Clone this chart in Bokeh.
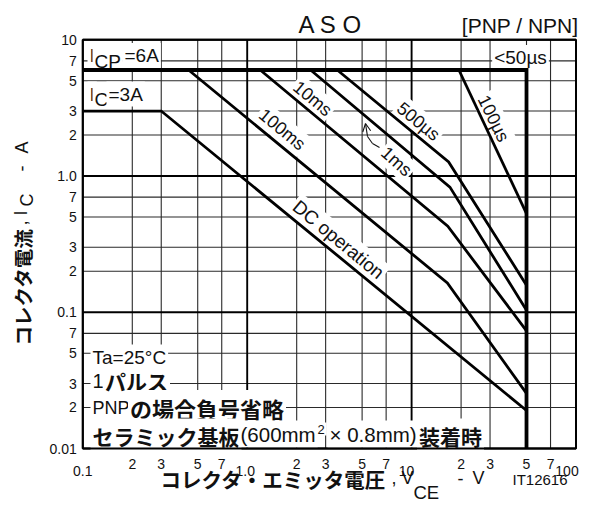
from bokeh.plotting import figure
from bokeh.models import Range1d, Label, Arrow, OpenHead
from bokeh.core.properties import value
from bokeh.embed import file_html
from bokeh.resources import INLINE

# ---------------- data ----------------
x_decades = [0.1, 1.0, 10.0, 100.0]
x_decade_labels = ["0.1", "1.0", "10", "100"]
x_minor = [0.2, 0.3, 0.5, 0.7, 2, 3, 5, 7, 20, 30, 50, 70]
x_minor_labels = ["2", "3", "5", "7"] * 3
y_decades = [0.01, 0.1, 1.0, 10.0]
y_decade_labels = ["0.01", "0.1", "1.0", "10"]
y_minor = [0.02, 0.03, 0.05, 0.07, 0.2, 0.3, 0.5, 0.7, 2, 3, 5, 7]
y_minor_labels = ["2", "3", "5", "7"] * 3

icp_vce = [0.1, 50, 50]
icp_ic = [6, 6, 0.01]
dc_vce = [0.1, 0.3, 50]
dc_ic = [3, 3, 0.019]
ms100_vce = [0.44, 16.5, 50]
ms100_ic = [6, 0.164, 0.0254]
ms10_vce = [1.2, 16.6, 50]
ms10_ic = [6, 0.428, 0.073]
ms1_vce = [2.43, 17.1, 50]
ms1_ic = [6, 0.83, 0.1035]
us500_vce = [3.53, 16.8, 50]
us500_ic = [6, 1.27, 0.158]
us100_vce = [19.4, 50]
us100_ic = [6, 0.53]

LAT = "Liberation Sans"
JP = "Noto Sans CJK JP"
INK = "#111111"

# ---------------- layout ----------------
W, H = 588, 504
X0P, X1P = 82.3, 575.5   # pixel columns of the plot box (left / right)
Y0P, Y1P = 448.0, 39.3   # pixel rows of the plot box (bottom / top)
XMIN, XMAX = x_decades[0], x_decades[-1]
YMIN, YMAX = y_decades[0], y_decades[-1]
ndx = len(x_decades) - 1
ndy = len(y_decades) - 1
dxp = (X1P - X0P) / ndx
dyp = (Y0P - Y1P) / ndy
x_lo = XMIN * 10 ** (-X0P / dxp)
x_hi = XMIN * 10 ** ((W - X0P) / dxp)
y_lo = YMIN * 10 ** (-(H - Y0P) / dyp)
y_hi = YMAX * 10 ** (Y1P / dyp)

p = figure(width=W, height=H, x_axis_type="log", y_axis_type="log",
           x_range=Range1d(x_lo, x_hi), y_range=Range1d(y_lo, y_hi),
           x_axis_location=None, y_axis_location=None,
           min_border=0, min_border_left=0, min_border_right=0,
           min_border_top=0, min_border_bottom=0,
           output_backend="svg", toolbar_location=None)
p.grid.visible = False
p.outline_line_color = None
p.background_fill_color = "white"
p.border_fill_color = "white"

# grid lines
n = len(x_minor)
p.segment(x0=x_minor, y0=[YMIN] * n, x1=x_minor, y1=[YMAX] * n,
          line_color="#2a2a2a", line_width=1.1, level="image")
m = len(y_minor)
p.segment(x0=[XMIN] * m, y0=y_minor, x1=[XMAX] * m, y1=y_minor,
          line_color="#2a2a2a", line_width=1.1, level="image")
k = len(x_decades)
p.segment(x0=x_decades, y0=[YMIN] * k, x1=x_decades, y1=[YMAX] * k,
          line_color="black", line_width=1.9, level="image")
j = len(y_decades)
p.segment(x0=[XMIN] * j, y0=y_decades, x1=[XMAX] * j, y1=y_decades,
          line_color="black", line_width=1.9, level="image")

# tick labels
y_ticks = y_minor + y_decades
y_tlabels = y_minor_labels + y_decade_labels
p.text(x=[XMIN] * len(y_ticks), y=y_ticks, text=y_tlabels, x_offset=-6,
       text_align="right", text_baseline="middle", text_font=value(LAT),
       text_font_size="14px", text_color=INK)
p.text(x=x_minor, y=[YMIN] * n, text=x_minor_labels, y_offset=15,
       text_align="center", text_baseline="alphabetic", text_font=value(LAT),
       text_font_size="14px", text_color=INK)
p.text(x=x_decades, y=[YMIN] * k, text=x_decade_labels, y_offset=22.5,
       x_offset=[0, -2, -5, -9],
       text_align="center", text_baseline="alphabetic", text_font=value(LAT),
       text_font_size="14px", text_color=INK)

# plot box
p.quad(left=[XMIN], right=[XMAX], bottom=[YMIN], top=[YMAX], fill_color=None,
       line_color="black", line_width=2)

# curves
curves = [(icp_vce, icp_ic, 3.8), (dc_vce, dc_ic, 2.8), (ms100_vce, ms100_ic, 2.8),
          (ms10_vce, ms10_ic, 2.8), (ms1_vce, ms1_ic, 2.8), (us500_vce, us500_ic, 2.8),
          (us100_vce, us100_ic, 2.8)]
for xs, ys, w in curves:
    p.line(xs, ys, line_color="black", line_width=w, line_join="miter")


def lab(text, px, py, size, font=LAT, bold=False, align="left", angle=0, bg=False,
        level="annotation"):
    """px: left/centre/right edge per align; py: vertical centre of the glyphs."""
    l = Label(x=px, y=H - py, x_units="screen", y_units="screen", text=text,
              text_font=font, text_font_size=f"{size}px",
              text_font_style="bold" if bold else "normal",
              text_align=align, text_baseline="middle", angle=angle, angle_units="deg",
              text_color=INK, level=level)
    if bg:
        l.background_fill_color = "white"
        l.padding = 2
    p.add_layout(l)


U = "underlay"
# in-plot labels
lab("I", 87, 55, 19, bg=True, level=U)
lab("CP", 92, 60.5, 19, bg=True, level=U)
lab("=6A", 122, 55, 19, bg=True, level=U)
lab("I", 87, 93.5, 19, bg=True, level=U)
lab("C", 92, 99, 19, bg=True, level=U)
lab("=3A", 106, 93.5, 19, bg=True, level=U)
lab("<50µs", 520, 57, 19, align="center", bg=True, level=U)

lab("100ms", 281.7, 129, 18, align="center", angle=-39.5, bg=True, level=U)
lab("10ms", 312, 98, 18, align="center", angle=-39.5, bg=True, level=U)
lab("1ms", 396, 161, 18, align="center", angle=-42, bg=True, level=U)
lab("500µs", 418, 121, 18, align="center", angle=-39.5, bg=True, level=U)
lab("100µs", 493, 118, 18, align="center", angle=-64, bg=True, level=U)
lab("DC operation", 338, 239, 19, align="center", angle=-39.5, bg=True, level=U)

# 1ms pointer
pts = [(379, 147), (372, 143), (367, 136), (365, 123)]
for i in range(len(pts) - 1):
    (x0, y0), (x1, y1) = pts[i], pts[i + 1]
    last = i == len(pts) - 2
    p.add_layout(Arrow(x_start=x0, y_start=H - y0, x_end=x1, y_end=H - y1,
                       start_units="screen", end_units="screen", line_width=1.1,
                       line_color=INK, start=None,
                       end=OpenHead(size=8, line_width=1.1, line_color=INK) if last else None))

# notes
lab("Ta=25°C", 90, 356.5, 19, bg=True, level=U)
lab("1", 90, 380, 20, bg=True, level=U)
lab("パルス", 102.5, 380.5, 21, font=JP, bold=True, bg=True, level=U)
lab("PNP", 90, 407, 18, bg=True, level=U)
lab("の場合負号省略", 127.5, 407.5, 22, font=JP, bold=True, bg=True, level=U)
lab("セラミック基板", 90, 435, 21, font=JP, bold=True, bg=True, level=U)
lab("(600mm", 238, 433.5, 20.5, bg=True, level=U)
lab("2", 315, 428.5, 13, bg=True, level=U)
lab("× 0.8mm)", 327, 433.5, 20.5, bg=True, level=U)
lab("装着時", 416.5, 435, 21, font=JP, bold=True, bg=True, level=U)

# titles
lab("A S O", 330, 23.5, 24, align="center")
lab("[PNP / NPN]", 578, 25, 21, align="right")

# x axis title
lab("コレクタ・エミッタ電圧", 160, 478.5, 20.5, font=JP, bold=True)
lab(", V", 391, 477.5, 18)
lab("CE", 413, 491.5, 18.5)
lab("-", 457, 477.5, 18)
lab("V", 472, 477.5, 18)
lab("IT12616", 512, 478.5, 15)

# y axis title (rotated)
lab("コレクタ電流", 21.7, 345, 19.5, font=JP, bold=True, angle=90)
lab(", I", 20.8, 225, 18, angle=90)
lab("C", 26.7, 206, 18, angle=90)
lab("-", 21, 171, 18, angle=90)
lab("A", 21, 153, 18, angle=90)

open("out.html", "w").write(file_html(p, INLINE))
